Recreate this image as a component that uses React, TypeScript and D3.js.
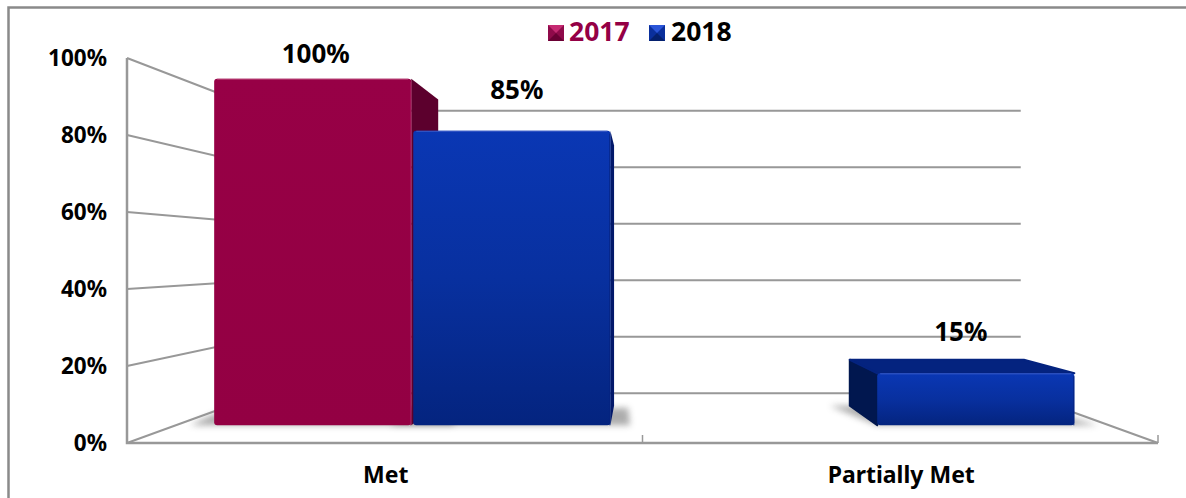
import React from "react";
import * as d3 from "d3";

// Chart content
const categories = ["Met", "Partially Met"];
const seriesNames = ["2017", "2018"];
const values2017: (number | null)[] = [100, null];
const values2018: (number | null)[] = [85, 15];
const yTicks = [0, 20, 40, 60, 80, 100];

const WIDTH = 1186;
const HEIGHT = 498;
const FONT = "'Noto Sans', Tahoma, sans-serif";
const AXIS = "#989898";

// Perspective set-up: front plane of the chart box, and scale factors towards the vanishing point
const front = { left: 127, right: 1158, top: 58, bottom: 443 };
const vp = { x: 642, y: 256 };
const S_BACK = 0.734;
const S_BAR_FRONT = 0.9;
const S_BAR_BACK = 0.795;

const x0 = d3
  .scaleBand<string>()
  .domain(categories)
  .range([front.left + 2, front.right + 2])
  .paddingInner(0.146)
  .paddingOuter(0.073);
const x1 = d3
  .scaleBand<string>()
  .domain(seriesNames)
  .range([0, x0.bandwidth()])
  .paddingInner(0.01);
const y = d3.scaleLinear().domain([0, 100]).range([front.bottom, front.top]);

type Pt = [number, number];
const project = (px: number, py: number, s: number): Pt => [
  vp.x + (px - vp.x) * s,
  vp.y + (py - vp.y) * s,
];
const poly = (pts: Pt[]) => (d3.line()(pts) ?? "") + "Z";

// Value labels sit at hand-tuned distances from the projected bar tops
const labelNudge: Record<string, [number, number]> = {
  "2017-Met": [3, -15],
  "2018-Met": [5, -31],
  "2018-Partially Met": [-15, -31],
};

const palette: Record<string, any> = {
  "2017": { front: "url(#redFront)", side: "#5c002d", top: "#6d0036", edge: "#b4376f", rim: "#a81a5c" },
  "2018": { front: "url(#blueFront)", side: "#02186a", top: "#04237f", edge: "#3a5cc8", rim: "#05237f" },
};

function barCorners(series: string, cat: string, value: number) {
  const xa = (x0(cat) as number) + (x1(series) as number);
  const xb = xa + x1.bandwidth();
  const yTop = y(value);
  const yBase = y(0);
  return {
    xa,
    xb,
    yTop,
    fTL: project(xa, yTop, S_BAR_FRONT),
    fTR: project(xb, yTop, S_BAR_FRONT),
    fBR: project(xb, yBase, S_BAR_FRONT),
    fBL: project(xa, yBase, S_BAR_FRONT),
    bTL: project(xa, yTop, S_BAR_BACK),
    bTR: project(xb, yTop, S_BAR_BACK),
    bBL: project(xa, yBase, S_BAR_BACK),
    bBR: project(xb, yBase, S_BAR_BACK),
  };
}

// Soft floor shadow, spreading outwards from the visible foot of the bar
function BarShadow({ series, cat, value }: { series: string; cat: string; value: number }) {
  const k = barCorners(series, cat, value);
  const pts: Pt[] =
    k.xa > vp.x
      ? [
          [k.bBL[0] - 20, k.bBL[1]],
          [k.bBR[0], k.bBR[1]],
          [k.fBR[0] + 24, k.fBR[1]],
          [k.fBL[0], k.fBL[1]],
        ]
      : [
          [k.fBL[0] - 24, k.fBL[1]],
          [k.fBL[0], k.bBL[1] + 8],
          [k.bBR[0] + 14, k.bBR[1] + 2],
          [k.bBR[0] + 16, k.fBR[1]],
        ];
  return <path d={poly(pts)} fill="#8a8a8a" opacity={0.7} filter="url(#soft)" />;
}

function Bar({ series, cat, value }: { series: string; cat: string; value: number }) {
  const c = palette[series];
  const k = barCorners(series, cat, value);

  // The side and top faces that can be seen depend on where the bar sits relative to the vanishing point
  const showRight = k.xb < vp.x;
  const showLeft = k.xa > vp.x;
  const showTop = k.yTop > vp.y;

  return (
    <g>
      {showRight && <path d={poly([k.fTR, k.bTR, k.bBR, k.fBR])} fill={c.side} />}
      {showLeft && (
        <path
          d={poly([k.fTL, k.bTL, k.bBL, k.fBL])}
          fill={series === "2018" ? "#01174f" : c.side}
          stroke="#01174f"
          strokeWidth={2}
          strokeLinejoin="round"
        />
      )}
      {showTop && (
        <path
          d={poly([k.fTL, k.bTL, k.bTR, k.fTR])}
          fill={c.top}
          stroke={c.top}
          strokeWidth={2}
          strokeLinejoin="round"
        />
      )}
      <rect
        x={k.fTL[0]}
        y={k.fTL[1]}
        width={k.fTR[0] - k.fTL[0]}
        height={k.fBL[1] - k.fTL[1]}
        rx={3}
        fill={c.front}
      />
      <line x1={k.fTL[0] + 3} x2={k.fTR[0] - 3} y1={k.fTL[1] + 0.5} y2={k.fTL[1] + 0.5} stroke={c.edge} strokeWidth={1} />
      <line x1={k.fTR[0] - 0.5} x2={k.fTR[0] - 0.5} y1={k.fTR[1] + 3} y2={k.fBR[1]} stroke={c.rim} strokeWidth={1} />
    </g>
  );
}

function LegendMarker({ x, top, size, light, mid, dark }: any) {
  const m: Pt = [x + size / 2, top + size / 2];
  const tl: Pt = [x, top];
  const tr: Pt = [x + size, top];
  const br: Pt = [x + size, top + size];
  const bl: Pt = [x, top + size];
  return (
    <g>
      <rect x={x} y={top} width={size} height={size} fill={mid} />
      <path d={poly([tl, tr, m])} fill={light} />
      <path d={poly([br, bl, m])} fill={dark} />
    </g>
  );
}

export default function App() {
  const bars = seriesNames.flatMap((s, si) =>
    categories.map((cat, ci) => ({
      series: s,
      cat,
      value: (si === 0 ? values2017 : values2018)[ci],
    })),
  );
  const drawn = bars.filter((b) => b.value != null) as { series: string; cat: string; value: number }[];

  return (
    <svg
      width={WIDTH}
      height={HEIGHT}
      viewBox={`0 0 ${WIDTH} ${HEIGHT}`}
      style={{ position: "absolute", left: 0, top: 0, display: "block", background: "#fff" }}
      fontFamily={FONT}
      fontWeight={700}
    >
      <defs>
        <linearGradient id="redFront" x1="0" y1="0" x2="0" y2="1">
          <stop offset="0" stopColor="#970046" />
          <stop offset="1" stopColor="#930043" />
        </linearGradient>
        <linearGradient id="blueFront" x1="0" y1="0" x2="0" y2="1">
          <stop offset="0" stopColor="#0a37b4" />
          <stop offset="0.5" stopColor="#08309f" />
          <stop offset="1" stopColor="#04247f" />
        </linearGradient>
        <filter id="soft" x="-20%" y="-50%" width="140%" height="200%">
          <feGaussianBlur stdDeviation="3" />
        </filter>
      </defs>

      {/* Frame of the chart area */}
      <path d={`M8.5 ${HEIGHT} V7.5 H${WIDTH}`} fill="none" stroke="#8a8a8a" strokeWidth={2.5} />

      {/* Side wall lines continuing into the back wall gridlines */}
      {yTicks.map((t) => {
        const a: Pt = [front.left, y(t)];
        const b = project(front.left, y(t), S_BACK);
        const c = project(front.right, y(t), S_BACK);
        return (
          <g key={t}>
            <path d={d3.line()([a, b, c]) ?? ""} fill="none" stroke={AXIS} strokeWidth={2} />
            <text x={107} y={y(t) + 8} textAnchor="end" fontSize={22.5} fill="#000">
              {t}%
            </text>
          </g>
        );
      })}

      {/* Floor edge on the right */}
      <path
        d={d3.line()([project(front.right, y(0), S_BACK), [front.right, y(0)]]) ?? ""}
        fill="none"
        stroke={AXIS}
        strokeWidth={2}
      />

      {/* Front axes with their tick marks */}
      <path
        d={`M${front.left} ${front.top} V${front.bottom} H${front.right}`}
        fill="none"
        stroke={AXIS}
        strokeWidth={2.5}
      />
      {[front.left + (front.right - front.left) / 2, front.right].map((tx) => (
        <line key={tx} x1={tx} x2={tx} y1={front.bottom} y2={front.bottom - 8} stroke={AXIS} strokeWidth={1.5} />
      ))}

      <g transform="translate(0,1)">
        {drawn.map((b) => (
          <BarShadow key={`s-${b.series}-${b.cat}`} {...b} />
        ))}
        {drawn.map((b) => (
          <Bar key={`${b.series}-${b.cat}`} {...b} />
        ))}
      </g>

      {/* Value labels */}
      {drawn.map((b) => {
        const key = `${b.series}-${b.cat}`;
        const xa = (x0(b.cat) as number) + (x1(b.series) as number);
        const [fx, fy] = project(xa + x1.bandwidth() / 2, y(b.value), S_BAR_FRONT);
        const [dx, dy] = labelNudge[key];
        return (
          <text key={key} x={fx + dx} y={fy + dy} textAnchor="middle" fontSize={26} fill="#000">
            {b.value}%
          </text>
        );
      })}

      {/* Category labels */}
      {categories.map((cat) => (
        <text
          key={cat}
          x={(x0(cat) as number) + x0.bandwidth() / 2 - 1}
          y={483}
          textAnchor="middle"
          fontSize={23}
          fill="#000"
        >
          {cat}
        </text>
      ))}

      {/* Legend */}
      <LegendMarker x={548} top={25} size={16} light="#c52a72" mid="#8f0a4a" dark="#6a0034" />
      <text x={569} y={41} fontSize={26.5} fill="#940045">
        {seriesNames[0]}
      </text>
      <LegendMarker x={649} top={25} size={16} light="#2a55d8" mid="#0a2f9c" dark="#04206e" />
      <text x={671} y={41} fontSize={26.5} fill="#000">
        {seriesNames[1]}
      </text>
    </svg>
  );
}
